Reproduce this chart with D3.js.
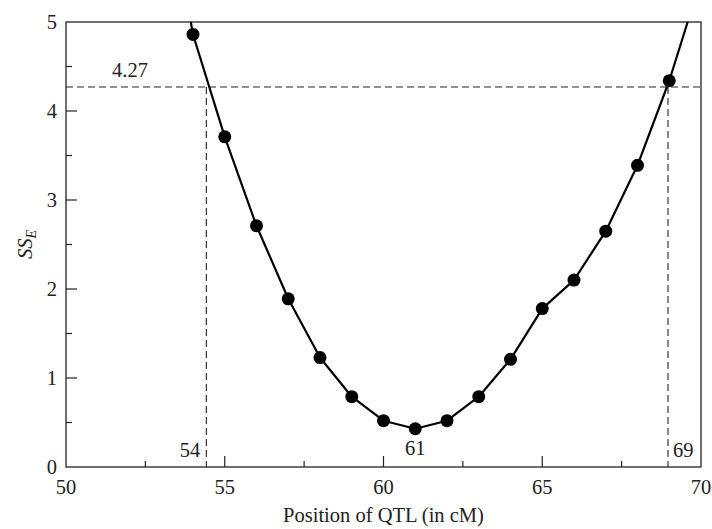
<!DOCTYPE html>
<html><head><meta charset="utf-8">
<script src="https://cdn.jsdelivr.net/npm/d3@7"></script>
<style>body{margin:0;background:#fff}svg{display:block}text{font-family:"Liberation Serif","DejaVu Serif",serif;fill:#222}</style>
</head><body>
<script>
const positions = [54,55,56,57,58,59,60,61,62,63,64,65,66,67,68,69];
const sse = [4.86,3.71,2.71,1.89,1.23,0.79,0.52,0.43,0.52,0.79,1.21,1.78,2.10,2.65,3.39,4.34];
const curveStart = [53.93, 5];
const curveEnd = [69.58, 5];
const threshold = 4.27;
const ciBounds = [54.42, 68.96];
const xTicks = [50,55,60,65,70];
const yTicks = [0,1,2,3,4,5];
const annotations = [{x:54.42,label:"54",side:"left"},{x:61,label:"61",side:"center"},{x:68.96,label:"69",side:"right"}];

const W=712,H=529,m={l:66,r:11,t:22,b:62};
const FS=20.5;
const svg=d3.select("body").append("svg").attr("width",W).attr("height",H);
const x=d3.scaleLinear().domain([50,70]).range([m.l,W-m.r]);
const y=d3.scaleLinear().domain([0,5]).range([H-m.b,m.t]);
const ink="#222";
svg.append("rect").attr("x",x(50)).attr("y",y(5)).attr("width",x(70)-x(50)).attr("height",y(0)-y(5)).attr("fill","none").attr("stroke",ink).attr("stroke-width",1.3);
const yMinor=d3.range(0.5,5,1);
svg.selectAll(".ymaj").data(yTicks.slice(1,-1)).join("line").attr("x1",x(50)).attr("x2",x(50)+11).attr("y1",d=>y(d)).attr("y2",d=>y(d)).attr("stroke",ink).attr("stroke-width",1.2);
svg.selectAll(".ymin").data(yMinor).join("line").attr("x1",x(50)).attr("x2",x(50)+6).attr("y1",d=>y(d)).attr("y2",d=>y(d)).attr("stroke",ink).attr("stroke-width",1.2);
svg.selectAll(".ylab").data(yTicks).join("text").attr("x",x(50)-9).attr("y",d=>y(d)+7).attr("text-anchor","end").attr("font-size",FS).text(d=>d);
const xMinor=d3.range(52.5,70,5);
svg.selectAll(".xmaj").data(xTicks.slice(1,-1)).join("line").attr("x1",d=>x(d)).attr("x2",d=>x(d)).attr("y1",y(0)).attr("y2",y(0)-11).attr("stroke",ink).attr("stroke-width",1.2);
svg.selectAll(".xmin").data(xMinor).join("line").attr("x1",d=>x(d)).attr("x2",d=>x(d)).attr("y1",y(0)).attr("y2",y(0)-6).attr("stroke",ink).attr("stroke-width",1.2);
svg.selectAll(".xlab").data(xTicks).join("text").attr("x",d=>x(d)).attr("y",y(0)+27).attr("text-anchor","middle").attr("font-size",FS).text(d=>d);
svg.append("text").attr("x",(x(50)+x(70))/2).attr("y",H-7).attr("text-anchor","middle").attr("font-size",FS).text("Position of QTL (in cM)");
const yt=svg.append("text").attr("transform",`translate(32,${(y(0)+y(5))/2}) rotate(-90)`).attr("text-anchor","middle").attr("font-size",FS).attr("font-style","italic");
yt.append("tspan").text("SS");
yt.append("tspan").attr("font-size",14).attr("dy",4).text("E");
const dash="7,4";
svg.append("line").attr("x1",x(50)).attr("x2",x(70)).attr("y1",y(threshold)).attr("y2",y(threshold)).attr("stroke",ink).attr("stroke-width",1.1).attr("stroke-dasharray",dash);
svg.selectAll(".vd").data(ciBounds).join("line").attr("x1",d=>x(d)).attr("x2",d=>x(d)).attr("y1",y(threshold)).attr("y2",y(0)).attr("stroke",ink).attr("stroke-width",1.1).attr("stroke-dasharray",dash);
svg.append("text").attr("x",x(51.45)).attr("y",y(threshold)-10).attr("font-size",FS).text(threshold.toFixed(2));
annotations.forEach(a=>{
  const t=svg.append("text").attr("font-size",FS).attr("y",a.side==="center"?y(0)-12:y(0)-10).text(a.label);
  if(a.side==="left") t.attr("x",x(a.x)-6).attr("text-anchor","end");
  else if(a.side==="right") t.attr("x",x(a.x)+5).attr("text-anchor","start");
  else t.attr("x",x(a.x)).attr("text-anchor","middle");
});
const pts=[curveStart,...positions.map((p,i)=>[p,sse[i]]),curveEnd];
svg.append("path").datum(pts).attr("d",d3.line().x(d=>x(d[0])).y(d=>y(d[1]))).attr("fill","none").attr("stroke","#000").attr("stroke-width",2.2).attr("stroke-linejoin","round");
svg.selectAll(".pt").data(positions).join("circle").attr("cx",d=>x(d)).attr("cy",(d,i)=>y(sse[i])).attr("r",6.5).attr("fill","#000");
</script>
</body></html>
